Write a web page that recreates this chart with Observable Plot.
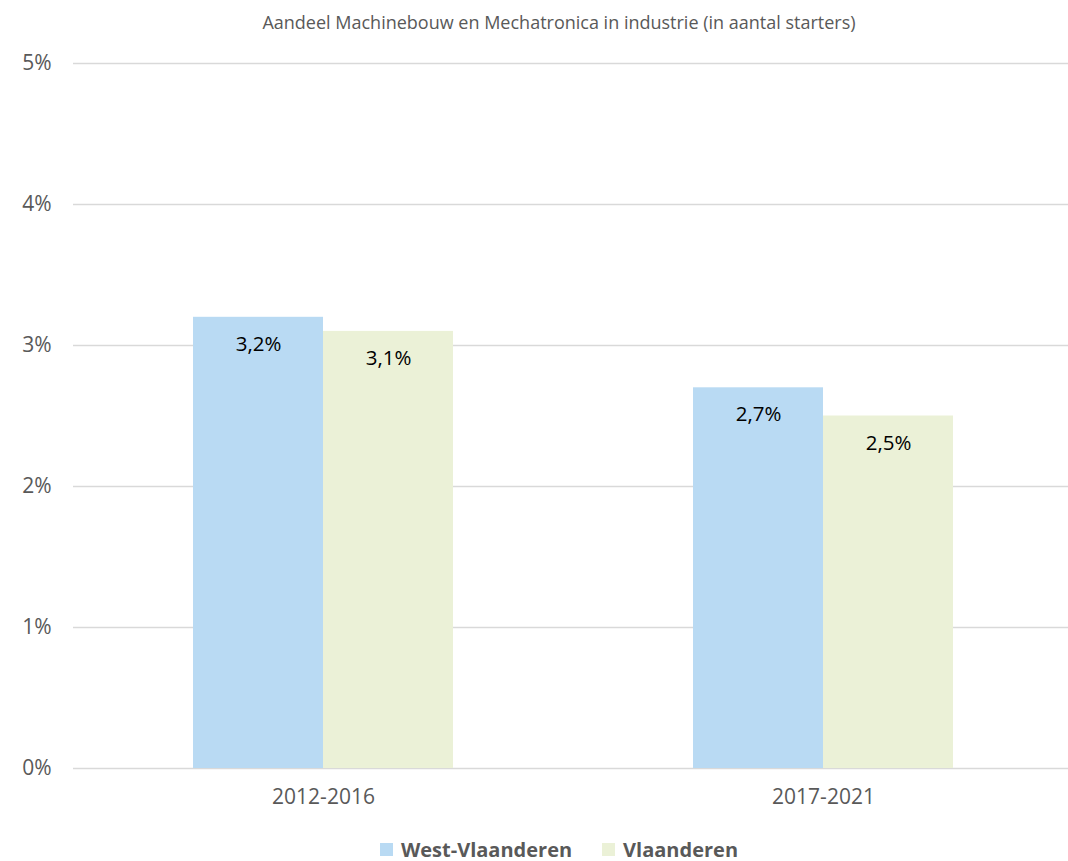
<!DOCTYPE html>
<html>
<head>
<meta charset="utf-8">
<script src="https://cdn.jsdelivr.net/npm/d3@7"></script>
<script src="https://cdn.jsdelivr.net/npm/@observablehq/plot@0.6"></script>
<style>
  html, body { margin: 0; padding: 0; background: #fff; }
  body { width: 1068px; height: 861px; overflow: hidden; font-family: "Open Sans", Lato, sans-serif; }
  #title { height: 40px; line-height: 44px; text-align: center; font-size: 18px; color: #595959; padding-left: 50px; box-sizing: border-box; white-space: nowrap; }
  #chart svg { display: block; }
  #legend { height: 41px; line-height: 1; display: flex; justify-content: center; align-items: center; padding-top: 18px; box-sizing: border-box; font-size: 20px; font-weight: bold; color: #595959; padding-left: 50px; }
  .sw { display: inline-block; width: 13px; height: 13px; margin-right: 8px; }
  .item { display: inline-flex; align-items: center; margin: 0 15px; }
</style>
</head>
<body>
<div id="title">Aandeel Machinebouw en Mechatronica in industrie (in aantal starters)</div>
<div id="chart"></div>
<div id="legend"></div>
<script>
const periods = ["2012-2016", "2017-2021"];
const seriesNames = ["West-Vlaanderen", "Vlaanderen"];
const westVlaanderen = [3.2, 2.7];
const vlaanderen = [3.1, 2.5];
const seriesColors = ["#B9DAF3", "#EBF1D7"];
const yTicks = [0, 1, 2, 3, 4, 5];

const values = [westVlaanderen, vlaanderen];
const data = [];
periods.forEach((p, i) => {
  seriesNames.forEach((s, j) => data.push({period: p, series: s, value: values[j][i]}));
});

const fmt = v => v.toFixed(1).replace(".", ",") + "%";

const chart = Plot.plot({
  width: 1068,
  height: 780,
  marginLeft: 73,
  marginRight: -5,
  marginTop: 23,
  marginBottom: 52,
  style: {fontFamily: "'Open Sans', Lato, sans-serif", background: "#fff", overflow: "visible"},
  fx: {domain: periods, padding: 0, label: null},
  x: {domain: seriesNames, paddingInner: 0, paddingOuter: 0.923, axis: null},
  y: {domain: [0, 5], label: null},
  color: {domain: seriesNames, range: seriesColors},
  marks: [
    Plot.ruleY(yTicks, {stroke: "#d9d9d9", strokeWidth: 1.3}),
    Plot.barY(data, {fx: "period", x: "series", y: "value", fill: "series", inset: 0}),
    Plot.text(data, {fx: "period", x: "series", y: "value", text: d => fmt(d.value), dy: 27, fill: "#000", fontSize: 20.5}),
    Plot.axisY(yTicks, {tickSize: 0, tickPadding: 22, tickFormat: d => d + "%", fontSize: 21, color: "#595959", textAnchor: "end"}),
    Plot.axisFx({anchor: "bottom", tickSize: 0, tickPadding: 21, fontSize: 21, color: "#595959", label: null})
  ]
});
document.getElementById("chart").appendChild(chart);

const legend = document.getElementById("legend");
seriesNames.forEach((s, i) => {
  const item = document.createElement("span");
  item.className = "item";
  const sw = document.createElement("span");
  sw.className = "sw";
  sw.style.background = seriesColors[i];
  item.appendChild(sw);
  item.appendChild(document.createTextNode(s));
  legend.appendChild(item);
});
</script>
</body>
</html>
